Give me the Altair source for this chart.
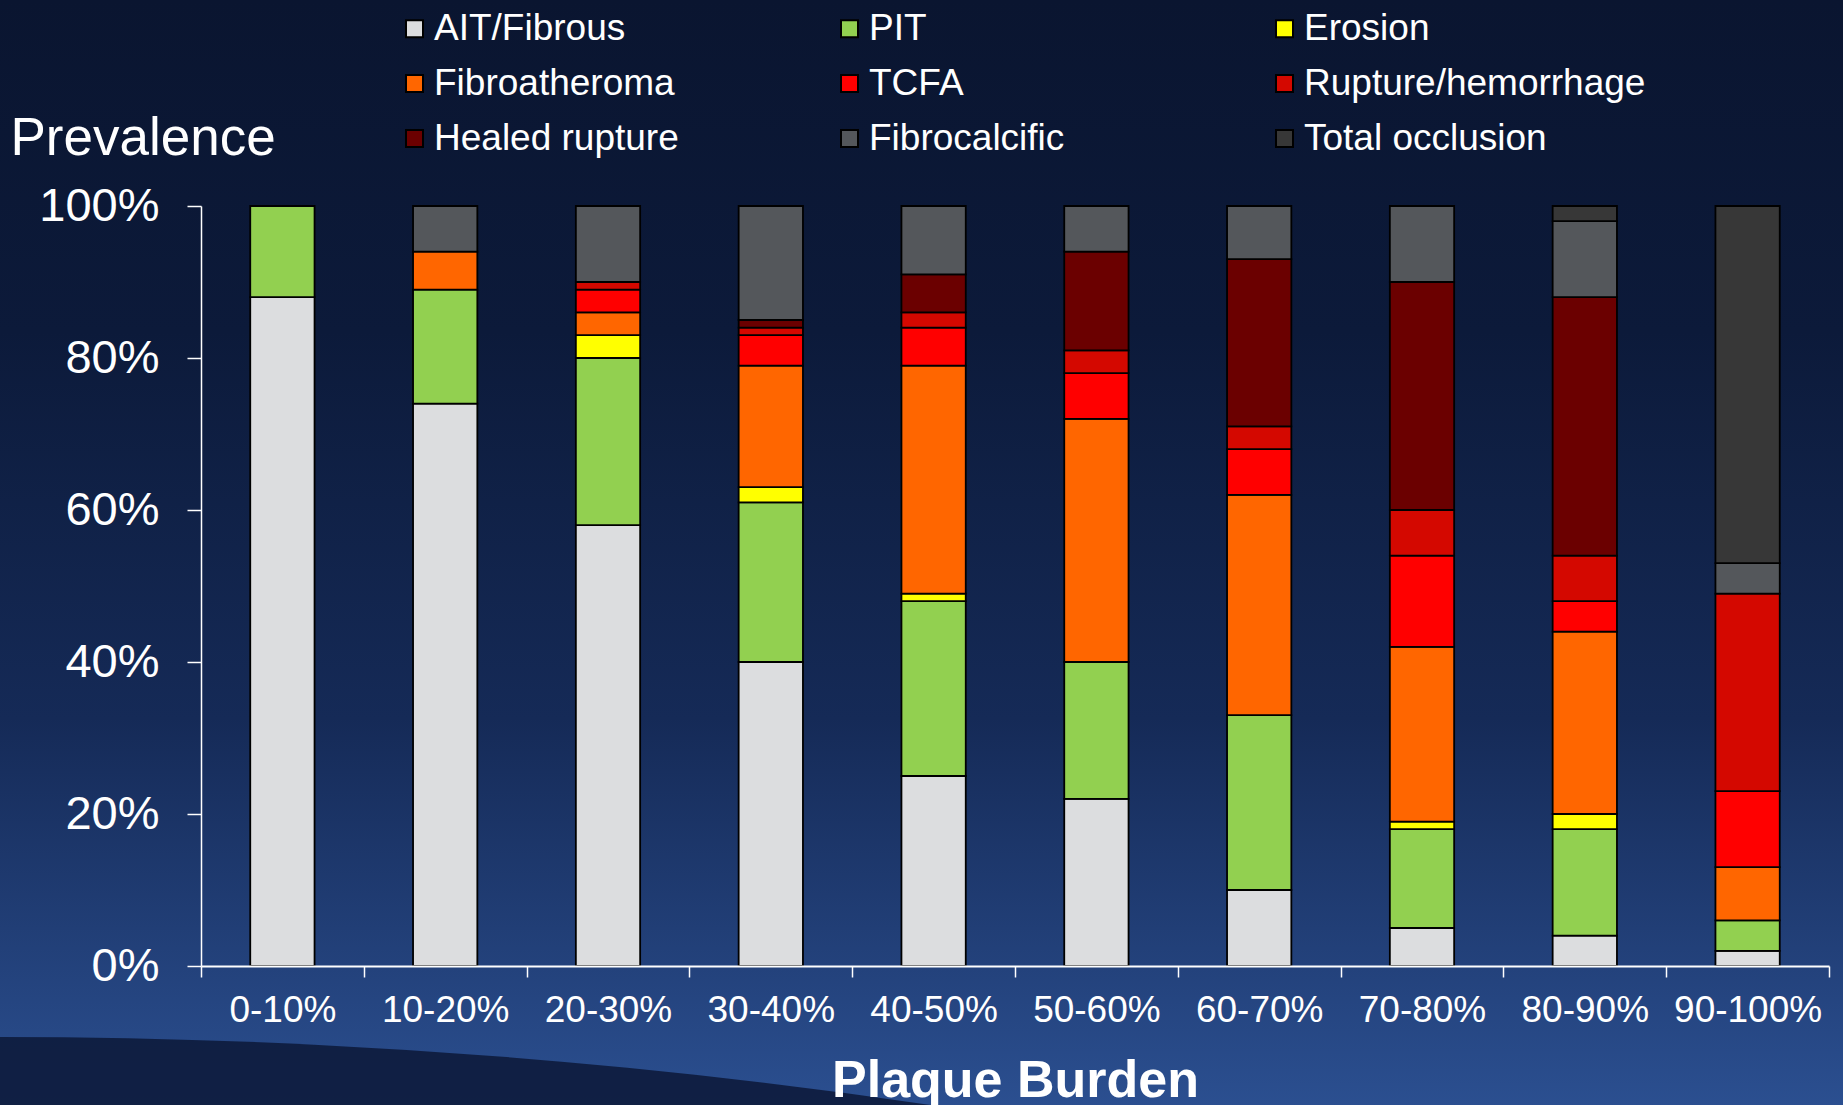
import altair as alt
import pandas as pd

# Plaque burden bins (x axis)
burden = ["0-10%", "10-20%", "20-30%", "30-40%", "40-50%",
          "50-60%", "60-70%", "70-80%", "80-90%", "90-100%"]

# Lesion types, bottom of the stack first
types = ["AIT/Fibrous", "PIT", "Erosion", "Fibroatheroma", "TCFA",
         "Rupture/hemorrhage", "Healed rupture", "Fibrocalcific", "Total occlusion"]
colors = ["#dcdddf", "#92d050", "#ffff00", "#ff6600", "#ff0000",
          "#d40800", "#6b0000", "#54575b", "#373737"]

# Prevalence (%) of each lesion type per plaque-burden bin
ait_fibrous   = [88, 74, 58, 40, 25, 22, 10, 5, 4, 2]
pit           = [12, 15, 22, 21, 23, 18, 23, 13, 14, 4]
erosion       = [0, 0, 3, 2, 1, 0, 0, 1, 2, 0]
fibroatheroma = [0, 5, 3, 16, 30, 32, 29, 23, 24, 7]
tcfa          = [0, 0, 3, 4, 5, 6, 6, 12, 4, 10]
rupture       = [0, 0, 1, 1, 2, 3, 3, 6, 6, 26]
healed        = [0, 0, 0, 1, 5, 13, 22, 30, 34, 0]
fibrocalcific = [0, 6, 10, 15, 9, 6, 7, 10, 10, 4]
occlusion     = [0, 0, 0, 0, 0, 0, 0, 0, 2, 47]

series = [ait_fibrous, pit, erosion, fibroatheroma, tcfa,
          rupture, healed, fibrocalcific, occlusion]

rows = []
for k, (name, vals) in enumerate(zip(types, series)):
    for b, v in zip(burden, vals):
        if v > 0:
            rows.append({"burden": b, "type": name, "value": v, "order": k})
df = pd.DataFrame(rows)

FONT = "Liberation Sans"
W, H = 1628, 760
PAD = {"left": 201, "top": 206, "right": 14, "bottom": 139}

# Slide background: vertical navy-to-blue gradient over the whole canvas
backdrop = alt.Chart(pd.DataFrame({"k": [0]})).mark_rect(
    fill=alt.Gradient(
        gradient="linear",
        stops=[
            alt.GradientStop(color="#0a1530", offset=0),
            alt.GradientStop(color="#0c1a3a", offset=0.3),
            alt.GradientStop(color="#152a57", offset=0.65),
            alt.GradientStop(color="#2b4f90", offset=1),
        ],
        x1=0, x2=0, y1=0, y2=1,
    )
).encode(
    x=alt.value(-PAD["left"]), x2=alt.value(W + PAD["right"]),
    y=alt.value(-PAD["top"]), y2=alt.value(H + PAD["bottom"]),
)

# Dark sweeping curve in the lower-left corner of the slide
swoosh = alt.Chart(pd.DataFrame({"k": [0]})).mark_arc(
    radius=6400, theta=0, theta2=6.2832, fill="#0d1b3c", opacity=0.9
).encode(
    x=alt.value(-PAD["left"]), y=alt.value(7437 - PAD["top"])
)

bars = alt.Chart(df).mark_bar(
    stroke="black", strokeWidth=1.8, width=alt.RelativeBandSize(0.395)
).encode(
    x=alt.X(
        "burden:N", sort=burden,
        scale=alt.Scale(paddingInner=0, paddingOuter=0),
        axis=alt.Axis(
            title="Plaque Burden", labelAngle=0, labelFont=FONT, labelFontSize=37,
            labelColor="white", labelPadding=15, tickSize=11, tickColor="white",
            tickWidth=1.5, tickBand="extent", domainColor="white", domainWidth=2,
            titleFont=FONT, titleFontSize=52, titleFontWeight="bold",
            titleColor="white", titleBaseline="alphabetic", titleY=130, zindex=1,
        ),
    ),
    y=alt.Y(
        "value:Q", stack="zero",
        scale=alt.Scale(domain=[0, 100], nice=False),
        axis=alt.Axis(
            title="Prevalence", values=[0, 20, 40, 60, 80, 100],
            labelExpr="datum.value + '%'", labelFont=FONT, labelFontSize=47,
            labelColor="white", labelPadding=28, tickSize=14, tickColor="white",
            tickWidth=1.5, domainColor="white", domainWidth=1.5, grid=False,
            titleFont=FONT, titleFontSize=53, titleFontWeight="normal",
            titleColor="white", titleAngle=0, titleAlign="left",
            titleBaseline="alphabetic", titleX=-191, titleY=-52, zindex=1,
        ),
    ),
    color=alt.Color(
        "type:N",
        scale=alt.Scale(domain=types, range=colors),
        legend=alt.Legend(
            title=None, orient="none", legendX=195, legendY=-196,
            direction="horizontal", columns=3, columnPadding=55, rowPadding=17,
            gridAlign="all",
            symbolType="square", symbolSize=289, symbolStrokeColor="black",
            symbolStrokeWidth=2, symbolOpacity=1, labelFont=FONT,
            labelFontSize=37, labelColor="white", labelOffset=1,
            labelLimit=600, padding=0, zindex=1,
        ),
    ),
    order=alt.Order("order:Q", sort="ascending"),
)

chart = alt.layer(backdrop, swoosh, bars).properties(
    width=W, height=H,
    autosize=alt.AutoSizeParams(type="none"),
    padding=PAD,
    background="#0a1530",
).configure_view(stroke=None)

chart.save("out.html", embed_options={"renderer": "svg", "actions": False})
